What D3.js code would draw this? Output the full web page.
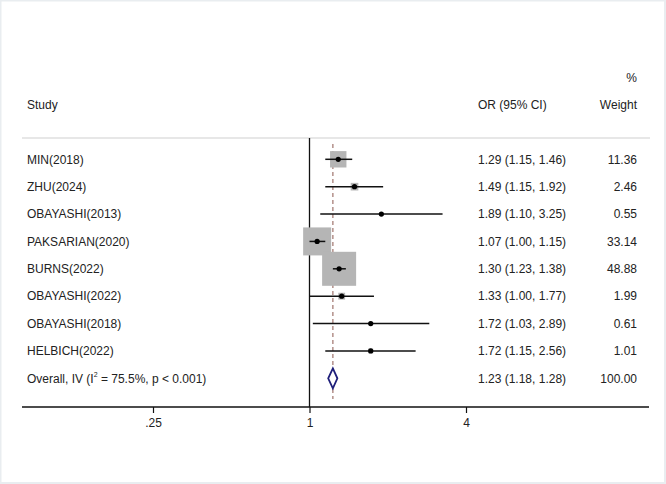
<!DOCTYPE html>
<html>
<head>
<meta charset="utf-8">
<script src="https://cdn.jsdelivr.net/npm/d3@7"></script>
<style>
  html, body { margin: 0; padding: 0; background: #fff; }
  text { font-family: "Liberation Sans", Arial, sans-serif; font-size: 12px; fill: #222; }
</style>
</head>
<body>
<div id="app"></div>
<script>
// study rows
const studies = ['MIN(2018)', 'ZHU(2024)', 'OBAYASHI(2013)', 'PAKSARIAN(2020)', 'BURNS(2022)',
  'OBAYASHI(2022)', 'OBAYASHI(2018)', 'HELBICH(2022)']
const or = [1.29, 1.49, 1.89, 1.07, 1.30, 1.33, 1.72, 1.72]
const lo = [1.15, 1.15, 1.10, 1.00, 1.23, 1.00, 1.03, 1.15]
const hi = [1.46, 1.92, 3.25, 1.15, 1.38, 1.77, 2.89, 2.56]
const weights = [11.36, 2.46, 0.55, 33.14, 48.88, 1.99, 0.61, 1.01]
// pooled estimate
const overall = { or: 1.23, lo: 1.18, hi: 1.28, weight: 100, i2: 75.5, p: '< 0.001' }
const tickValues = [0.25, 1, 4]
const tickLabels = ['.25', '1', '4']

const W = 666, H = 484
const svg = d3.select('#app').append('svg').attr('width', W).attr('height', H)

// faint frame of the screenshot
svg.append('rect').attr('x', 0.5).attr('y', 0.5).attr('width', W - 1.5).attr('height', H - 1.5)
  .attr('fill', '#fff').attr('stroke', '#e9edf0').attr('stroke-width', 2)

const x = d3.scaleLog().base(2).domain([0.25, 4]).range([153, 466])
const rows = studies.concat(['overall'])
const y = d3.scalePoint().domain(d3.range(rows.length)).range([159.3, 378.3])
// box side proportional to sqrt(weight)
const side = d3.scaleSqrt().domain([0, 48.88]).range([0, 34])

const plotTop = 138, axisY = 407
const colOR = 478, colW = 637

// header
svg.append('line').attr('x1', 22).attr('x2', 650).attr('y1', plotTop).attr('y2', plotTop)
  .attr('stroke', '#cfcfcf').attr('stroke-width', 1)
svg.append('text').attr('x', 27).attr('y', 109).text('Study')
svg.append('text').attr('x', colOR).attr('y', 109).text('OR (95% CI)')
svg.append('text').attr('x', colW).attr('y', 109).attr('text-anchor', 'end').text('Weight')
svg.append('text').attr('x', colW).attr('y', 82).attr('text-anchor', 'end').text('%')

// null line
svg.append('line').attr('x1', x(1)).attr('x2', x(1)).attr('y1', plotTop).attr('y2', axisY)
  .attr('stroke', '#111').attr('stroke-width', 1.3)

// overall dashed line
svg.append('line').attr('x1', x(overall.or)).attr('x2', x(overall.or))
  .attr('y1', plotTop + 6).attr('y2', axisY - 8)
  .attr('stroke', '#a87f78').attr('stroke-width', 1.3).attr('stroke-dasharray', '4,3')

const g = svg.append('g')
studies.forEach((s, i) => {
  const cy = y(i)
  const sd = side(weights[i])
  g.append('rect').attr('x', x(or[i]) - sd / 2).attr('y', cy - sd / 2)
    .attr('width', sd).attr('height', sd).attr('fill', '#b5b5b5')
  g.append('line').attr('x1', x(lo[i])).attr('x2', x(hi[i])).attr('y1', cy).attr('y2', cy)
    .attr('stroke', '#111').attr('stroke-width', 1.5)
  g.append('circle').attr('cx', x(or[i])).attr('cy', cy).attr('r', 2.6).attr('fill', '#000')
  g.append('text').attr('x', 27).attr('y', cy + 4.3).text(s)
  g.append('text').attr('x', colOR).attr('y', cy + 4.3)
    .text(`${or[i].toFixed(2)} (${lo[i].toFixed(2)}, ${hi[i].toFixed(2)})`)
  g.append('text').attr('x', colW).attr('y', cy + 4.3).attr('text-anchor', 'end')
    .text(weights[i].toFixed(2))
})

// overall row
const oy = y(rows.length - 1)
g.append('path')
  .attr('d', `M${x(overall.lo)},${oy} L${x(overall.or)},${oy - 10} L${x(overall.hi)},${oy} L${x(overall.or)},${oy + 10} Z`)
  .attr('fill', '#fff').attr('stroke', '#1f1f7a').attr('stroke-width', 1.8)
const ot = g.append('text').attr('x', 27).attr('y', oy + 4.3)
ot.append('tspan').text('Overall, IV (I')
ot.append('tspan').attr('dy', -6).style('font-size', '7px').text('2')
ot.append('tspan').attr('dy', 6).text(` = ${overall.i2}%, p ${overall.p})`)
g.append('text').attr('x', colOR).attr('y', oy + 4.3)
  .text(`${overall.or.toFixed(2)} (${overall.lo.toFixed(2)}, ${overall.hi.toFixed(2)})`)
g.append('text').attr('x', colW).attr('y', oy + 4.3).attr('text-anchor', 'end')
  .text(overall.weight.toFixed(2))

// x axis
const axis = svg.append('g').attr('transform', `translate(0,${axisY})`)
  .call(d3.axisBottom(x).tickValues(tickValues).tickFormat((d, i) => tickLabels[i]).tickSize(6).tickPadding(5))
axis.select('.domain').remove()
axis.append('line').attr('x1', 22).attr('x2', 649).attr('stroke', '#111').attr('stroke-width', 1.3)
axis.selectAll('.tick line').attr('stroke', '#111').attr('stroke-width', 1.2)
axis.selectAll('.tick text').style('font-size', '12px').style('font-family', '"Liberation Sans", Arial, sans-serif').attr('fill', '#222')
</script>
</body>
</html>
